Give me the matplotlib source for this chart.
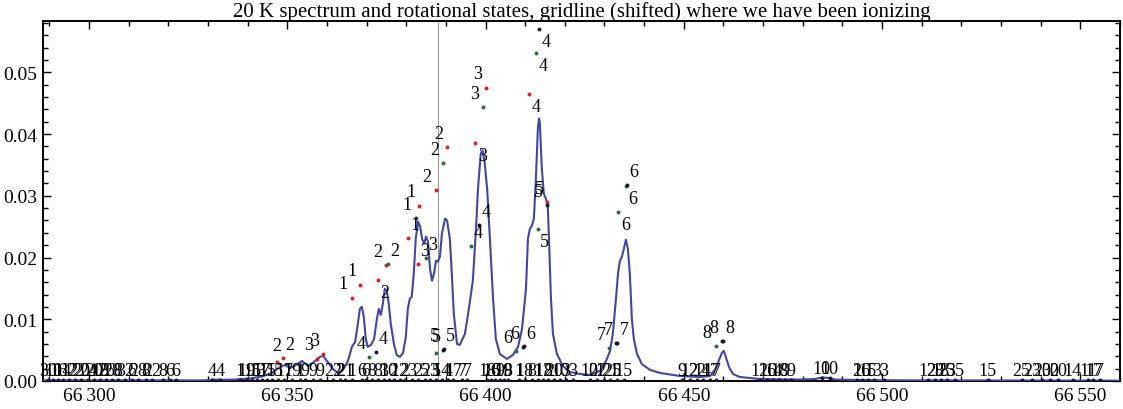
import matplotlib
matplotlib.use("Agg")
import matplotlib.pyplot as plt
from matplotlib.ticker import MultipleLocator, FuncFormatter

plt.rcParams['font.family'] = ['Liberation Serif', 'DejaVu Serif']

# ---------------------------------------------------------------- data
title = "20 K spectrum and rotational states, gridline (shifted) where we have been ionizing"

# measured spectrum (wavenumber, signal)
spec_x = [66288.4, 66302.8, 66317.9, 66329.2, 66331.8, 66333.5, 66336.8, 66340.6, 66343.6,
          66346.1, 66348.2, 66349.4, 66350.7, 66352.2, 66353.7, 66355.2, 66356.7, 66358.2,
          66359.0, 66360.0, 66361.5, 66362.8, 66364.0, 66365.3, 66366.3, 66367.1, 66367.8,
          66368.3, 66368.8, 66369.3, 66369.8, 66370.3, 66371.1, 66371.9, 66372.6, 66373.1,
          66373.6, 66374.1, 66374.6, 66375.1, 66375.6, 66376.1, 66376.9, 66377.6, 66378.4,
          66379.2, 66379.9, 66380.4, 66380.9, 66381.4, 66381.9, 66382.4, 66383.0, 66383.5,
          66384.0, 66384.5, 66385.0, 66385.5, 66386.0, 66386.5, 66387.0, 66387.5, 66388.0,
          66388.5, 66389.0, 66389.8, 66390.3, 66391.0, 66391.5, 66392.0, 66392.8, 66393.5,
          66394.8, 66395.8, 66396.8, 66397.6, 66398.1, 66398.8, 66399.3, 66399.8, 66400.4,
          66401.1, 66401.9, 66402.6, 66403.6, 66405.4, 66406.9, 66408.2, 66409.2, 66410.2,
          66410.7, 66411.2, 66411.7, 66412.2, 66412.7, 66413.2, 66413.5, 66413.7, 66414.2,
          66414.7, 66415.2, 66415.7, 66416.0, 66416.5, 66417.0, 66418.0, 66419.5, 66421.3,
          66423.8, 66426.3, 66428.8, 66430.4, 66431.4, 66432.1, 66432.9, 66433.4, 66433.9,
          66434.4, 66434.9, 66435.4, 66435.9, 66436.4, 66436.9, 66437.4, 66438.2, 66439.4,
          66441.5, 66444.0, 66449.0, 66454.1, 66456.6, 66457.8, 66458.8, 66459.6, 66460.1,
          66460.6, 66461.4, 66462.4, 66464.1, 66469.2, 66479.3, 66483.1, 66484.8, 66486.6,
          66488.1, 66494.4, 66504.5, 66529.7, 66560.0]
spec_y = [0.0001, 0.0001, 0.0001, 0.0001, 0.00024, 0.00019, 0.00024, 0.00041, 0.00073,
          0.0013, 0.00227, 0.0026, 0.00211, 0.0026, 0.00325, 0.00244, 0.00308, 0.0039,
          0.00406, 0.00325, 0.00195, 0.0013, 0.00179, 0.00325, 0.00552, 0.00633, 0.00925,
          0.01169, 0.01201, 0.01039, 0.00682, 0.00552, 0.00584, 0.00682, 0.01006, 0.01169,
          0.01071, 0.0125, 0.01494, 0.01461, 0.0125, 0.00925, 0.00601, 0.00422, 0.00390,
          0.00455, 0.00714, 0.01169, 0.01331, 0.01364, 0.01737, 0.02305, 0.02581, 0.0250,
          0.02305, 0.02224, 0.02338, 0.02256, 0.01818, 0.01623, 0.01737, 0.01948, 0.01932,
          0.02013, 0.02386, 0.0263, 0.02597, 0.02305, 0.01737, 0.01088, 0.00601, 0.00584,
          0.00763, 0.01169, 0.01623, 0.02468, 0.03117, 0.03685, 0.03734, 0.03523, 0.03117,
          0.02305, 0.01331, 0.00682, 0.00438, 0.00357, 0.00422, 0.00552, 0.00844, 0.01494,
          0.02305, 0.02468, 0.02516, 0.02630, 0.03279, 0.04091, 0.04253, 0.04172, 0.03442,
          0.03036, 0.02955, 0.02841, 0.02305, 0.01331, 0.00763, 0.00438, 0.00244, 0.00146,
          0.00114, 0.00097, 0.00162, 0.00325, 0.00487, 0.00763, 0.01331, 0.01737, 0.01948,
          0.02013, 0.02143, 0.02289, 0.02143, 0.01737, 0.01006, 0.00682, 0.00438, 0.00276,
          0.00179, 0.00130, 0.00081, 0.00065, 0.00081, 0.00179, 0.00325, 0.00455, 0.00487,
          0.00390, 0.00227, 0.00114, 0.00065, 0.00032, 0.00024, 0.00032, 0.00057, 0.00049,
          0.00024, 0.00016, 0.00011, 0.00008, 0.00006]

# rotational states, three sets (position, strength, J label)
red_x = [66410.9, 66400.1, 66397.4, 66390.2, 66387.4, 66383.3, 66380.4, 66383.0, 66368.3,
         66366.2, 66374.9, 66372.9, 66347.3, 66349.0, 66357.4, 66359.1, 66415.6]
red_y = [0.0464, 0.0475, 0.0386, 0.0379, 0.0309, 0.0284, 0.0232, 0.0190, 0.0156,
         0.0135, 0.0188, 0.0163, 0.0030, 0.0038, 0.0036, 0.0043, 0.0290]
red_lab = ["4", "3", "3", "2", "2", "1", "1", "3", "1", "1", "2", "2", "2", "2", "3", "3", "5"]

green_x = [66412.7, 66399.3, 66396.4, 66413.2, 66433.5, 66389.3, 66382.4, 66385.0, 66375.4,
           66370.7, 66387.5, 66407.6, 66431.2, 66458.0, 66435.5]
green_y = [0.0531, 0.0443, 0.0219, 0.0246, 0.0274, 0.0353, 0.0264, 0.0200, 0.0190,
           0.0039, 0.0045, 0.0048, 0.0053, 0.0056, 0.0316]
green_lab = ["4", "3", "4", "5", "6", "2", "1", "3", "2", "4", "5", "6", "7", "8", "6"]

black_x = [66413.5, 66398.4, 66415.4, 66435.6, 66372.5, 66389.5, 66389.3, 66409.7, 66409.5,
           66433.2, 66433.0, 66459.9, 66459.7]
black_y = [0.0570, 0.0253, 0.0285, 0.0318, 0.0047, 0.0052, 0.0051, 0.0056, 0.0055,
           0.0062, 0.0061, 0.0065, 0.0064]
black_lab = ["4", "4", "5", "6", "4", "5", "5", "6", "6", "7", "7", "8", "8"]

# weak states sitting on the baseline
base_x = [66289.7, 66290.9, 66292.2, 66293.4, 66295.0, 66296.5, 66298.0, 66299.8, 66301.3,
          66302.8, 66304.3, 66305.8, 66307.3, 66309.1, 66310.8, 66312.4, 66314.4, 66315.9,
          66318.7, 66320.4, 66321.9, 66331.0, 66333.0, 66338.1, 66339.8, 66341.1, 66342.4,
          66343.6, 66344.9, 66346.1, 66347.7, 66349.2, 66351.2, 66353.2, 66354.5, 66356.5,
          66358.2, 66361.5, 66363.3, 66364.6, 66366.3, 66368.8, 66369.8, 66371.4, 66372.9,
          66374.4, 66375.6, 66376.9, 66378.4, 66379.7, 66381.4, 66383.0, 66384.7, 66386.0,
          66387.5, 66389.0, 66390.5, 66391.8, 66394.1, 66395.3, 66400.4, 66401.4, 66402.4,
          66403.6, 66404.6, 66405.7, 66408.4, 66409.9, 66411.7, 66413.2, 66414.5, 66415.7,
          66417.2, 66418.8, 66420.3, 66422.0, 66426.3, 66428.1, 66429.9, 66431.4, 66433.1,
          66434.9, 66449.5, 66451.5, 66453.3, 66454.8, 66456.6, 66458.1, 66469.2, 66471.0,
          66472.5, 66474.0, 66475.5, 66477.0, 66484.8, 66486.8, 66493.6, 66494.9, 66496.4,
          66497.9, 66500.5, 66511.5, 66513.3, 66514.8, 66516.3, 66518.4, 66526.7, 66535.2,
          66537.8, 66540.3, 66542.3, 66544.3, 66548.1, 66551.9, 66553.2, 66554.9]
base_y = [0.0002] * 94 + [0.0005, 0.0005] + [0.0002] * 20
base_lab = ["30", "10", "16", "14", "12", "22", "20", "24", "20",
            "18", "26", "28", "8", "32", "6", "28", "8", "22",
            "8", "6", "6", "4", "4", "1", "19", "15", "13",
            "17", "11", "5", "5", "17", "19", "1", "9", "9",
            "9", "22", "2", "21", "1", "6", "6", "8", "8",
            "3", "10", "2", "12", "2", "3", "2", "5", "23",
            "5", "14", "4", "17", "7", "7", "18", "16", "6",
            "9", "19", "8", "1", "18", "8", "1", "12", "8",
            "20", "10", "3", "3", "10", "22", "12", "21", "5",
            "15", "9", "12", "22", "14", "17", "7", "12", "16",
            "14", "18", "9", "9", "10", "10", "2", "16", "15",
            "13", "3", "12", "28", "18", "25", "35", "15", "25",
            "23", "20", "30", "20", "14", "11", "17", "7"]

gridline_x = 66388.0

# label placement per set (offsets in points)
OFF = {"ul": (-6, 10), "ur": (5, 9.5), "dr": (5, -9), "up": (0, 12), "base": (0, 7)}
red_side = ["dr", "ul", "dr", "ul", "ul", "ul", "ur", "ur", "ul",
            "ul", "ul", "dr", "up", "ur", "ul", "ul", "ul"]
green_side = ["dr", "ul", "ur", "dr", "dr", "ul", "ul", "ur", "ur", "ul", "up", "ul", "ul", "ul", "dr"]
black_side = ["dr", "ur", "ul", "ur", "ur", "ur", "ul", "ur", "ul", "ur", "ul", "ur", "ul"]

# ---------------------------------------------------------------- plot
fig = plt.figure(figsize=(11.23, 4.10), dpi=100)
ax = fig.add_axes([0.0383, 0.0683, 0.9590, 0.8780])

ax.axvline(gridline_x, color="#9a9a9a", lw=0.8, zorder=1)
ax.plot(spec_x, spec_y, color="#4545a0", lw=1.5, zorder=3)


def states(xs, ys, labs, sides, color):
    ax.scatter(xs, ys, s=8, color=color, zorder=4, linewidths=0)
    for x, y, t, sd in zip(xs, ys, labs, sides):
        ax.annotate(t, (x, y), xytext=OFF[sd], textcoords="offset points",
                    ha="center", va="center", fontsize=13, color="black", zorder=5)


states(red_x, red_y, red_lab, red_side, "#e02020")
states(green_x, green_y, green_lab, green_side, "#2e6b3c")
states(black_x, black_y, black_lab, black_side, "#15152a")
states(base_x, base_y, base_lab, ["base"] * len(base_x), "#15152a")

ax.set_xlim(66288.4, 66560.0)
ax.set_ylim(0, 0.0583)

ax.xaxis.set_major_locator(MultipleLocator(50))
ax.xaxis.set_minor_locator(MultipleLocator(10))
ax.yaxis.set_major_locator(MultipleLocator(0.01))
ax.yaxis.set_minor_locator(MultipleLocator(0.002))
ax.xaxis.set_major_formatter(FuncFormatter(lambda v, p: "%d\u2009%03d" % (int(v) // 1000, int(v) % 1000)))
ax.yaxis.set_major_formatter(FuncFormatter(lambda v, p: "%.2f" % v))
ax.tick_params(which="both", direction="in", top=True, right=True, labelsize=14, width=1)
ax.tick_params(which="major", length=6, pad=4)
ax.tick_params(which="minor", length=3.5)
for s in ax.spines.values():
    s.set_linewidth(1.4)

ax.set_title(title, fontsize=15, pad=2)

fig.savefig("out.png", dpi=100)
